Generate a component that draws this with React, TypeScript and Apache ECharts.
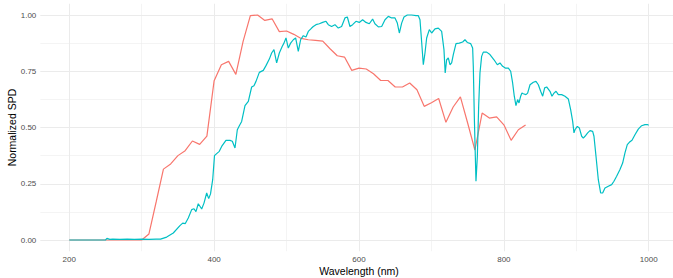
import React, { useEffect, useRef } from "react";
import * as echarts from "echarts";

const xTicks = [200, 400, 600, 800, 1000];
const xMinor = [300, 500, 700, 900];
const yTicks = [0, 0.25, 0.5, 0.75, 1];
const yMinor = [0.125, 0.375, 0.625, 0.875];

const salmonWl = [
  200, 210, 220, 230, 240, 250, 260, 270, 280, 290, 300, 310, 320, 330, 340, 350, 360, 370, 380, 390,
  400, 410, 420, 430, 440, 450, 460, 470, 480, 490, 500, 510, 520, 530, 540, 550, 560, 570, 580, 590,
  600, 610, 620, 630, 640, 650, 660, 670, 680, 690, 700, 710, 720, 730, 740, 750, 760, 770, 780, 790,
  800, 810, 820, 830,
];
const salmonVal = [
  0, 0, 0, 0, 0, 0, 0, 0, 0, 0, 0, 0.027, 0.17, 0.315, 0.338, 0.375, 0.397, 0.44, 0.425, 0.462,
  0.708, 0.779, 0.794, 0.736, 0.883, 0.997, 1.0, 0.976, 0.983, 0.926, 0.929, 0.914, 0.896, 0.89, 0.887, 0.884, 0.85, 0.819, 0.813, 0.754,
  0.764, 0.76, 0.739, 0.709, 0.709, 0.68, 0.68, 0.698, 0.668, 0.594, 0.61, 0.629, 0.523, 0.591, 0.636, 0.52, 0.4, 0.564, 0.542, 0.547,
  0.512, 0.443, 0.49, 0.511,
];

const tealWl = [
  200, 250, 252, 256, 260, 270, 280, 290, 300, 310, 320, 326, 334.5, 343.6, 352.8, 356.6, 360.2, 364.3, 369, 372.2,
  374.9, 378.1, 380.4, 382.8, 386, 389.7, 392.5, 395, 398, 400.5, 403.5, 407.1, 410.4, 416.3, 421.9, 425.1, 428.8, 432, 434.8, 438,
  442.6, 447.2, 451.8, 455, 457.8, 462.4, 467.9, 471.6, 476.2, 479.4, 482.6, 486.3, 490, 494.1, 496.4, 499.2, 502.4, 505.6, 509.3, 512.5,
  516.2, 519.4, 523.1, 526.8, 530, 534.6, 536.9, 540.6, 545.2, 549.8, 554.4, 557.6, 562.2, 566.8, 571.4, 576, 580.6, 583.9, 587.5, 591.2,
  595.8, 600.4, 605, 609.6, 614.2, 618.8, 622, 626.7, 631.3, 635.9, 640.5, 645.1, 649.7, 652.9, 655.7, 658.9, 662.1, 666.7, 672.7, 678.7,
  681.9, 684.2, 686.5, 688.8, 691.1, 693.4, 697.1, 700.3, 704.9, 709.5, 714.1, 717.3, 719, 721, 723.3, 725.6, 727.9, 730.2, 733.9, 738.5,
  743.1, 746.3, 749.5, 754.1, 756.9, 757.8, 759.2, 760.6, 761.5, 763.4, 765.2, 767, 769.3, 771.6, 776.2, 780.8, 786.4, 791, 794.6, 798.3,
  802, 806.2, 809.4, 812.1, 814.4, 816.7, 819, 820.9, 823.2, 825, 826.9, 830.5, 832.8, 836.1, 840.7, 844.3, 847.6, 850.8, 853.6, 856.3,
  859.1, 861.4, 863.7, 866.4, 869.2, 872, 875.2, 879.8, 884.4, 889, 892.2, 895, 896.8, 898.2, 901.4, 904.2, 907.4, 909.7, 912, 915.7,
  918.9, 922.6, 924.4, 927.2, 930.4, 933.6, 936.4, 939.6, 944.2, 948.8, 952, 955.7, 960.3, 964, 967.2, 970.4, 973.2, 976.9, 981, 985.6,
  990.2, 994.8, 998, 1000,
];
const tealVal = [
  0, 0, 0.007, 0.003, 0.004, 0.003, 0.004, 0.003, 0.004, 0.003, 0.004, 0.004, 0.013, 0.031, 0.064, 0.075, 0.073, 0.098, 0.135, 0.139,
  0.126, 0.161, 0.15, 0.138, 0.164, 0.209, 0.184, 0.205, 0.268, 0.375, 0.384, 0.394, 0.416, 0.443, 0.443, 0.439, 0.409, 0.49, 0.508, 0.527,
  0.597, 0.616, 0.68, 0.686, 0.705, 0.745, 0.754, 0.775, 0.804, 0.831, 0.846, 0.787, 0.831, 0.861, 0.875, 0.898, 0.853, 0.875, 0.89, 0.898,
  0.838, 0.89, 0.908, 0.902, 0.927, 0.942, 0.949, 0.957, 0.961, 0.967, 0.972, 0.957, 0.949, 0.957, 0.942, 0.949, 0.987, 0.991, 0.949, 0.957,
  0.972, 0.967, 0.979, 0.967, 0.961, 0.982, 0.961, 0.947, 0.949, 0.979, 0.994, 0.987, 0.987, 0.964, 0.92, 0.964, 0.991, 1.0, 1.0, 0.997,
  0.997, 0.979, 0.88, 0.779, 0.831, 0.898, 0.935, 0.92, 0.938, 0.942, 0.927, 0.846, 0.742, 0.801, 0.809, 0.779, 0.787, 0.824, 0.873, 0.875,
  0.88, 0.89, 0.878, 0.873, 0.853, 0.772, 0.55, 0.372, 0.261, 0.372, 0.594, 0.742, 0.816, 0.835, 0.835, 0.824, 0.801, 0.779, 0.787, 0.772,
  0.764, 0.764, 0.75, 0.698, 0.639, 0.597, 0.624, 0.609, 0.639, 0.653, 0.65, 0.646, 0.653, 0.69, 0.701, 0.705, 0.69, 0.661, 0.639, 0.676,
  0.68, 0.671, 0.661, 0.639, 0.653, 0.661, 0.646, 0.646, 0.639, 0.627, 0.579, 0.527, 0.476, 0.49, 0.505, 0.498, 0.461, 0.453, 0.461, 0.476,
  0.486, 0.483, 0.461, 0.372, 0.268, 0.209, 0.209, 0.231, 0.239, 0.246, 0.261, 0.283, 0.313, 0.342, 0.387, 0.424, 0.434, 0.443, 0.468, 0.493,
  0.508, 0.513, 0.513, 0.51,
];

const FONT = "'Liberation Sans', Arial, sans-serif";
const GRID = "#EBEBEB";

export default function App() {
  const ref = useRef<HTMLDivElement>(null);
  useEffect(() => {
    if (!ref.current) return;
    const chart = echarts.init(ref.current, null, { renderer: "svg" });
    const zip = (xs: number[], ys: number[]) => xs.map((x, i) => [x, ys[i]]);
    chart.setOption({
      animation: false,
      textStyle: { fontFamily: FONT },
      grid: {
        left: 40.3,
        right: -4.7,
        top: 3.75,
        bottom: 26.75,
        containLabel: false,
        outerBoundsMode: "none",
      },
      xAxis: [
        {
          type: "value",
          min: 160,
          max: 1040,
          name: "Wavelength (nm)",
          nameLocation: "middle",
          nameGap: 14,
          nameMoveOverlap: false,
          nameTextStyle: { fontSize: 10.5, color: "#000", fontFamily: FONT },
          axisLine: { show: false },
          axisTick: { show: false, customValues: xTicks },
          axisLabel: {
            customValues: xTicks,
            color: "#4D4D4D",
            fontSize: 8,
            margin: 4,
            fontFamily: FONT,
            formatter: (v: number) => String(v),
          },
          splitLine: { show: true, lineStyle: { color: GRID, width: 1 } },
        },
        {
          type: "value",
          min: 160,
          max: 1040,
          position: "top",
          axisLine: { show: false },
          axisTick: { show: false, customValues: xMinor },
          axisLabel: { show: false },
          splitLine: { show: true, lineStyle: { color: GRID, width: 0.55 } },
        },
      ],
      yAxis: [
        {
          type: "value",
          min: -0.05,
          max: 1.05,
          name: "Normalized SPD",
          nameLocation: "middle",
          nameGap: 23,
          nameMoveOverlap: false,
          nameTextStyle: { fontSize: 10.5, color: "#000", fontFamily: FONT },
          axisLine: { show: false },
          axisTick: { show: false, customValues: yTicks },
          axisLabel: {
            customValues: yTicks,
            color: "#4D4D4D",
            fontSize: 8,
            margin: 4,
            fontFamily: FONT,
            formatter: (v: number) => v.toFixed(2),
          },
          splitLine: { show: true, lineStyle: { color: GRID, width: 1 } },
        },
        {
          type: "value",
          min: -0.05,
          max: 1.05,
          position: "right",
          axisLine: { show: false },
          axisTick: { show: false, customValues: yMinor },
          axisLabel: { show: false },
          splitLine: { show: true, lineStyle: { color: GRID, width: 0.55 } },
        },
      ],
      series: [
        {
          type: "line",
          data: zip(salmonWl, salmonVal),
          showSymbol: false,
          symbol: "none",
          lineStyle: { color: "#F8766D", width: 1.2 },
          z: 2,
        },
        {
          type: "line",
          data: zip(tealWl, tealVal),
          showSymbol: false,
          symbol: "none",
          lineStyle: { color: "#00BFC4", width: 1.2 },
          z: 3,
        },
      ],
    });
    return () => chart.dispose();
  }, []);
  return <div ref={ref} style={{ width: 673, height: 278, position: "absolute", left: 0, top: 0 }} />;
}
